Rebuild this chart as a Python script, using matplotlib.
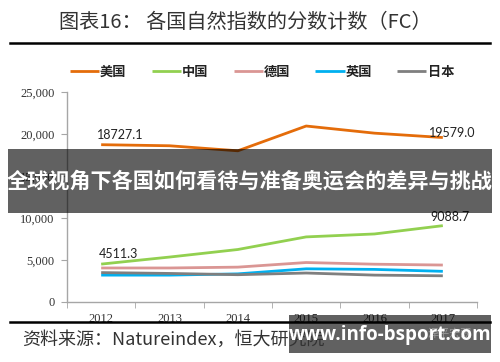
import matplotlib
matplotlib.use("Agg")
import matplotlib.pyplot as plt
from matplotlib.lines import Line2D
from matplotlib.patches import Rectangle
from matplotlib.ticker import StrMethodFormatter, FixedLocator

plt.rcParams['font.family'] = ['Noto Sans CJK SC', 'DejaVu Sans']

years = ['2012', '2013', '2014', '2015', '2016', '2017']
countries = ['美国', '中国', '德国', '英国', '日本']
usa = [18727.1, 18600, 18000, 20950, 20100, 19579.0]
china = [4511.3, 5350, 6250, 7750, 8100, 9088.7]
germany = [4050, 4050, 4150, 4700, 4500, 4400]
uk = [3200, 3200, 3350, 3950, 3880, 3650]
japan = [3500, 3400, 3250, 3450, 3200, 3120]
colors = ['#E46C0A', '#92D050', '#DA9694', '#00B0F0', '#7F7F7F']

W, H = 500, 362
fig = plt.figure(figsize=(W / 100, H / 100), dpi=100)


def fx(px):
    return px / W


def fy(py):
    return 1 - py / H


# title and rules
fig.text(fx(245), fy(22), '图表16： 各国自然指数的分数计数（FC）', ha='center', va='center',
         fontsize=14.5, color='#333333')
fig.add_artist(Line2D([fx(10), fx(490)], [fy(43), fy(43)], color='black', lw=1.8))
fig.add_artist(Line2D([fx(10), fx(490)], [fy(322), fy(322)], color='black', lw=1.8))

# chart
ax = fig.add_axes([fx(67), fy(302), fx(477) - fx(67), fy(92) - fy(302)])
x = range(len(years))
series = [usa, china, germany, uk, japan]
for vals, c, name in zip(series, colors, countries):
    ax.plot(x, vals, color=c, lw=2.0, label=name, solid_capstyle='butt')

ax.set_xlim(-0.5, 5.5)
ax.set_ylim(0, 25000)
ax.set_yticks([0, 5000, 10000, 15000, 20000, 25000])
ax.yaxis.set_major_formatter(StrMethodFormatter('{x:,.0f}'))
ax.set_xticks(list(x))
ax.set_xticklabels(years)
ax.xaxis.set_minor_locator(FixedLocator([i - 0.5 for i in range(len(years) + 1)]))
ax.tick_params(axis='x', which='major', length=0, pad=8)
ax.tick_params(axis='x', which='minor', length=4, color='#A6A6A6', direction='out')
ax.tick_params(axis='y', length=4, color='#A6A6A6', pad=5)
for lab in ax.get_xticklabels() + ax.get_yticklabels():
    lab.set_fontfamily('Liberation Serif')
    lab.set_fontsize(9)
    lab.set_color('#333333')
for s in ['top', 'right']:
    ax.spines[s].set_visible(False)
for s in ['left', 'bottom']:
    ax.spines[s].set_color('#A6A6A6')
    ax.spines[s].set_linewidth(1.0)

lbl = dict(fontsize=9, color='#222222', family='Lato', va='bottom')
ax.annotate(f'{usa[0]:.1f}', (0, usa[0]), xytext=(-3, 3), textcoords='offset points', ha='left', **lbl)
ax.annotate(f'{usa[-1]:.1f}', (5, usa[-1]), xytext=(-10, -1), textcoords='offset points', ha='left', **lbl)
ax.annotate(f'{china[0]:.1f}', (0, china[0]), xytext=(-2, 3), textcoords='offset points', ha='left', **lbl)
ax.annotate(f'{china[-1]:.1f}', (5, china[-1]), xytext=(-9, 2), textcoords='offset points', ha='left', **lbl)

leg = fig.legend(loc='center', bbox_to_anchor=(fx(262), fy(72)), ncol=5, frameon=False,
                 fontsize=9.5, handlelength=2.2, handletextpad=0.1, columnspacing=1.9)
for t in leg.get_texts():
    t.set_fontweight('bold')
    t.set_color('#222222')

# source
fig.text(fx(22), fy(340), '资料来源：Natureindex，恒大研究院', ha='left', va='center',
         fontsize=13, color='#333333', style='italic')
fig.text(fx(450), fy(333), '泽平宏观', ha='center', va='center', fontsize=8, color='#9A9A9A')

# overlay banner
fig.add_artist(Rectangle((fx(8), fy(213)), fx(492) - fx(8), fy(149) - fy(213),
                         transform=fig.transFigure, facecolor='black', alpha=0.62, lw=0))
fig.text(fx(250), fy(181), '全球视角下各国如何看待与准备奥运会的差异与挑战', ha='center', va='center',
         fontsize=15.2, color='white', fontweight='bold')

# watermark box
fig.add_artist(Rectangle((fx(289), fy(353)), fx(491) - fx(289), fy(315) - fy(353),
                         transform=fig.transFigure, facecolor='black', alpha=0.62, lw=0))
fig.text(fx(390), fy(335), 'www.info-bsport.com', ha='center', va='center',
         fontsize=13.5, color='white', fontweight='bold', family='Open Sans')

fig.savefig('out.png', dpi=100)
